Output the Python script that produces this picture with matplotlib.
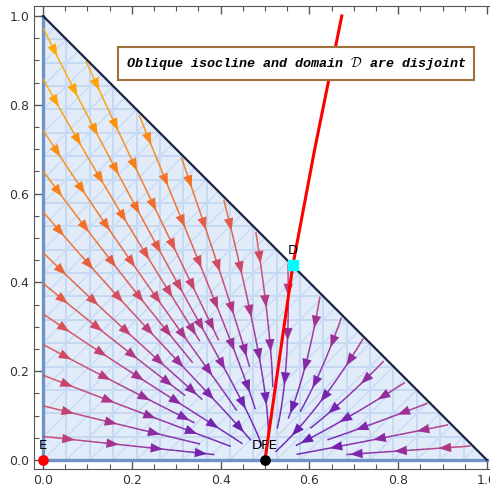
import numpy as np
import matplotlib
matplotlib.use("Agg")
import matplotlib.pyplot as plt
from matplotlib.collections import LineCollection
from matplotlib.patches import FancyArrowPatch
from matplotlib.colors import LinearSegmentedColormap, Normalize
from matplotlib.ticker import MultipleLocator, FormatStrFormatter

# oblique isocline (x as a function of y)
iso_y = [0.0, 0.225, 0.44, 0.70, 1.0]
iso_x = [0.500, 0.532, 0.563, 0.612, 0.673]

# equilibria
point_names = ["E", "DFE", "D"]
point_x = [0.0, 0.5, 0.563]
point_y = [0.0, 0.0, 0.44]
point_colors = ["red", "black", "cyan"]

title_text = r"Oblique isocline and domain $\mathcal{D}$ are disjoint"

plt.rcParams["mathtext.fontset"] = "cm"

DSEP = 0.046
DTEST = 0.019


def field(x, y):
    # x relaxes towards the isocline, y decays
    g = np.interp(y, iso_y, iso_x)
    return g - x, -y * (1 + 0.4 * y)


def inside(x, y):
    return x >= 0.0 and y >= 0.012 and x + y <= 0.995


grid = {}


def near(x, y, dist, tid=None):
    ci, cj = int(x / DTEST), int(y / DTEST)
    r = int(np.ceil(dist / DTEST))
    for i in range(ci - r, ci + r + 1):
        for j in range(cj - r, cj + r + 1):
            for (px, py, t) in grid.get((i, j), ()):
                if t != tid and (px - x) ** 2 + (py - y) ** 2 < dist ** 2:
                    return True
    return False


def trace(x0, y0, sign, tid, h=0.004):
    pts = [(x0, y0)]
    x, y = x0, y0
    for _ in range(800):
        u, v = field(x, y)
        s = np.hypot(u, v)
        if s < 1e-3:
            break
        xm, ym = x + sign * u / s * h / 2, y + sign * v / s * h / 2
        u2, v2 = field(xm, ym)
        s2 = np.hypot(u2, v2)
        if s2 < 1e-3:
            break
        xn, yn = x + sign * u2 / s2 * h, y + sign * v2 / s2 * h
        if not inside(xn, yn) or np.hypot(xn - 0.5, yn) < 0.028:
            break
        if near(xn, yn, DTEST, tid):
            break
        pts.append((xn, yn))
        x, y = xn, yn
    return pts


fig = plt.figure(figsize=(4.9, 4.88), dpi=100)
ax = fig.add_axes([34 / 490, 19 / 488, 462 / 490, 463 / 488])

# triangle domain with a light mesh
tri = plt.Polygon([[0, 0], [1, 0], [0, 1]], closed=True, facecolor="#e2ecf9",
                  edgecolor="none", zorder=0)
ax.add_patch(tri)
step = 1 / 19
for c in np.arange(step, 1, step):
    ax.plot([c, c], [0, 1 - c], color="#c3d7f3", lw=1.3, zorder=1)
    ax.plot([0, 1 - c], [c, c], color="#c3d7f3", lw=1.3, zorder=1)
for c in np.arange(-1, 1, step):
    x0 = max(0, -c)
    x1 = (1 - c) / 2
    if x1 > x0:
        ax.plot([x0, x1], [x0 + c, x1 + c], color="#cadcf5", lw=1.1, zorder=1)
ax.plot([0, 0], [0, 1], color="#6e93c8", lw=2.4, zorder=2)
ax.plot([0, 1], [0, 0], color="#6e93c8", lw=2.4, zorder=2)
ax.plot([0, 1], [1, 0], color="#1a2340", lw=1.6, zorder=5)

cmap = LinearSegmentedColormap.from_list(
    "stream", [(0.0, "#5b1cb5"), (0.14, "#7a25ad"), (0.27, "#a5338f"), (0.40, "#cf4868"),
               (0.58, "#f06a2a"), (0.78, "#fb8a12"), (1.0, "#ffab00")])
norm = Normalize(0.0, 1.28)

# evenly spaced streamlines over the triangle
seeds = [(sx, sy) for sx in np.arange(0.0, 1, 0.023) for sy in np.arange(0.03, 1, 0.023)
         if sx + sy < 0.985]
seeds.sort(key=lambda p: -np.hypot(p[0] - 0.5, p[1]))
tid = 0
for sx, sy in seeds:
    if near(sx, sy, DSEP):
        continue
    back = trace(sx, sy, -1, tid)
    fwd = trace(sx, sy, 1, tid)
    pts = np.array(back[::-1] + fwd[1:])
    tid += 1
    if len(pts) < 8:
        continue
    for px, py in pts:
        grid.setdefault((int(px / DTEST), int(py / DTEST)), []).append((px, py, tid - 1))
    seglen = np.hypot(*np.diff(pts, axis=0).T)
    arc = np.concatenate([[0], np.cumsum(seglen)])
    mids = (pts[:-1] + pts[1:]) / 2
    sp = np.hypot(*field(mids[:, 0], mids[:, 1]))
    segs = np.stack([pts[:-1], pts[1:]], axis=1)
    ax.add_collection(LineCollection(segs, colors=cmap(norm(sp)), linewidths=1.1, zorder=3))
    for s in np.arange(0.07, arc[-1] - 0.005, 0.1):
        k = min(max(np.searchsorted(arc, s), 2), len(pts) - 1)
        col = cmap(norm(sp[k - 1]))
        ax.add_patch(FancyArrowPatch(pts[k - 2], pts[k], arrowstyle="-|>,head_length=0.45,head_width=0.17",
                                     mutation_scale=20, color=col, lw=0, shrinkA=0, shrinkB=0,
                                     zorder=4))

# oblique isocline
ax.plot(iso_x, iso_y, color="red", lw=2.2, zorder=6)

for name, px, py, pc in zip(point_names, point_x, point_y, point_colors):
    marker = "s" if name == "D" else "o"
    ax.scatter([px], [py], s=45, color=pc, marker=marker, zorder=8, clip_on=False)
    ax.text(px, py + 0.018, name, ha="center", va="bottom", fontsize=9.5, zorder=9)

ax.text(0.57, 0.892, title_text, ha="center", va="center", fontsize=9.6,
        family=["Liberation Mono", "DejaVu Sans Mono"], style="italic", weight="bold",
        bbox=dict(boxstyle="square,pad=0.6", facecolor="white", edgecolor="#a0703c", lw=1.5),
        zorder=10)

ax.set_xlim(-0.0205, 1.0205)
ax.set_ylim(-0.0203, 1.0225)
for axis in (ax.xaxis, ax.yaxis):
    axis.set_major_locator(MultipleLocator(0.2))
    axis.set_minor_locator(MultipleLocator(0.05))
    axis.set_major_formatter(FormatStrFormatter("%.1f"))
ax.tick_params(which="both", direction="in", top=True, right=False, color="#555555",
               labelsize=9, labelcolor="#333333")
ax.tick_params(which="major", length=6, width=1)
ax.tick_params(which="minor", length=3.5, width=0.8)
for sp_ in ax.spines.values():
    sp_.set_color("#555555")

fig.savefig("out.png", dpi=100)
